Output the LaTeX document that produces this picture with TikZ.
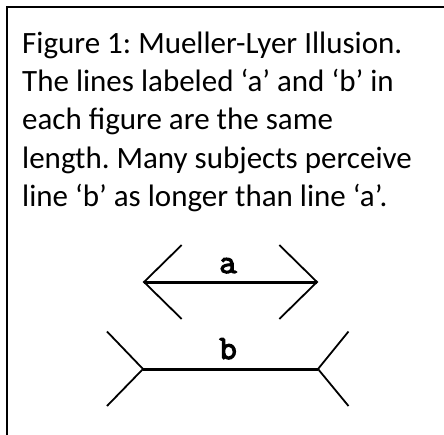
\documentclass[tikz,border=0pt]{standalone}
\usepackage{fontspec}
\setmainfont{Carlito}
\newfontfamily\labelfont[AutoFakeBold=3.5]{Latin Modern Mono}
\usetikzlibrary{calc}
\tikzset{
  frameline/.style={line width=2pt,line cap=rect},
  shaft/.style={line width=3pt},
  fin/.style={line width=1.8pt},
  caption/.style={anchor=base west,inner sep=0pt,font=\frenchspacing\fontsize{31}{36}\selectfont},
  lbl/.style={anchor=base,inner sep=0pt,font=\labelfont\bfseries\fontsize{34}{34}\selectfont},
}
\begin{document}
\begin{tikzpicture}[x=1pt,y=-1pt]
  \useasboundingbox[fill=white] (0,0) rectangle (444,434);
  % frame: only top and left edges show
  \draw[frameline] (444,7) -- (7,7) -- (7,434);
  % caption, one node per line
  \foreach \i/\txt in {
    0/{Figure 1: Mueller-Lyer Illusion.},
    1/{The lines labeled ‘a’ and ‘b’ in},
    2/{each figure are the same},
    3/{length. Many subjects perceive},
    4/{line ‘b’ as longer than line ‘a’.}%
  }{
    \node[caption] (cap\i) at (22,53.3+38.3*\i) {\txt};
  }
  % line a, fins pointing outward
  \coordinate (aL) at (144,282);
  \coordinate (aR) at (317,282);
  \draw[shaft] (aL) -- (aR);
  \draw[fin] ($(aL)+(37.7,-37)$) -- (aL) -- ($(aL)+(37.7,37)$);
  \draw[fin] ($(aR)+(-37.7,-37)$) -- (aR) -- ($(aR)+(-37.7,37)$);
  \node[lbl] (la) at (228,273) {a};
  % line b, fins pointing inward
  \coordinate (bL) at (143,369);
  \coordinate (bR) at (318,369);
  \draw[shaft] (bL) -- (bR);
  \draw[fin] ($(bL)+(-36,-37.5)$) -- (bL) -- ($(bL)+(-36,37)$);
  \draw[fin] ($(bR)+(30.5,-37.5)$) -- (bR) -- ($(bR)+(30.5,37)$);
  \node[lbl] (lb) at (228,359) {b};
\end{tikzpicture}
\end{document}
